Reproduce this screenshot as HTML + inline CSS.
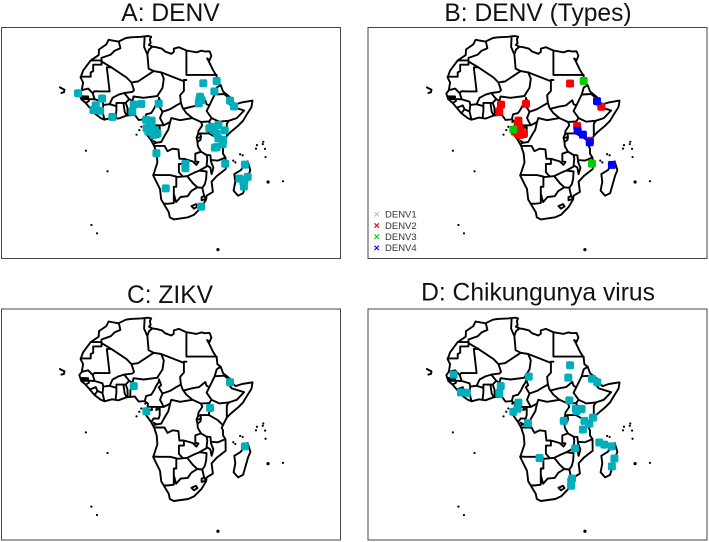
<!DOCTYPE html>
<html>
<head>
<meta charset="utf-8">
<title>Africa arbovirus maps</title>
<style>
html,body{margin:0;padding:0;background:#fff;}
svg{display:block;font-family:"Liberation Sans",sans-serif;filter:blur(0.35px);}
</style>
</head>
<body>
<svg id="chart" width="709" height="542" viewBox="0 0 709 542" xmlns="http://www.w3.org/2000/svg">
<rect width="709" height="542" fill="#fff"/>
<g id="panels"></g>
</svg>
<script>
const panelATitle = "A: DENV";
const panelBTitle = "B: DENV (Types)";
const panelCTitle = "C: ZIKV";
const panelDTitle = "D: Chikungunya virus";
const legendLabels = ["DENV1","DENV2","DENV3","DENV4"];

const denvPoints = [[-18,14.8],[-8.5,12.7],[-11,10],[-11.3,8.5],[-9.3,7.9],[-11.9,8.2],[-4.4,5.5],[4.1,10.3],[7.1,10.6],[3.5,7.5],[14,10.7],[9,4.3],[11.2,4],[9.2,1],[9.9,-0.3],[11.9,-1.6],[13.5,-1],[11.2,1.6],[10.5,3],[12.5,0.3],[13.1,-8.8],[24.6,-13],[24.6,-14.7],[16.8,-22.6],[30.8,-29.8],[31.7,18.7],[37,19.6],[36.1,15.5],[30.4,13.4],[30.1,12.1],[29.9,10.8],[31,12.1],[42.3,11.9],[43.9,9.6],[34.1,1],[35.7,0.3],[37.7,2.3],[40.2,0.2],[37,-1],[37.7,-3],[39.6,-3.6],[39.4,-5.2],[36.3,-6.6],[35,1.5],[37,-6.4],[40.4,-12.9],[48.2,-13.3],[46,-18.8],[49.3,-18.1],[47.6,-20],[47.8,-21.9],[48,-19.5]];
const denv1Points = [];
const denv2Points = [[31.6,18.6],[44,9.5],[4.2,10.3],[3.5,7.4],[14.1,10.6],[11.1,4],[11.3,1.6],[9.7,-0.3],[11.7,-1.6],[13.3,-1],[11,2.8],[12,0],[10.8,-1],[34.4,1.9],[39.5,-3.9]];
const denv3Points = [[37,19.6],[9.1,0.5],[40.3,-12.9]];
const denv4Points = [[42.3,11.7],[34.6,0.1],[36.7,-1.5],[39.4,-4.5],[48.2,-13.4]];
const zikvPoints = [[4.1,10.4],[9.1,0.5],[34.4,1.8],[42.3,11.9],[48.2,-13.3]];
const chikvPoints = [[-14.6,14.9],[-11.7,7.9],[-9.4,7.8],[4.1,10.4],[3.5,7.4],[15.2,14.1],[11.1,3.9],[10.8,1.5],[9.1,0.3],[14.9,-4.2],[31.6,18.6],[30.9,13.7],[40.3,13.3],[42.4,11.9],[31.3,4.8],[33.9,1.5],[34.2,0.6],[36.2,1.4],[29.1,-3.3],[37.3,-3.3],[40.7,-2],[39.2,-4.4],[36.7,-6.7],[43.2,-11.8],[45.2,-12.6],[48.1,-13.3],[49.2,-18.1],[48.2,-21.2],[33.6,-14.1],[19.5,-17.9],[32.4,-26],[32,-28.8]];

const coastline = [[-5.9,35.8],[-2,35.1],[1,36.5],[3,36.8],[7,37],[9.8,37.3],[11,37],[10.5,36],[10.8,34.5],[10.1,33.8],[11.5,33.1],[13,32.9],[15.3,32.3],[16.5,31.2],[19,30.3],[20,31],[20,32.3],[22,32.9],[25,31.6],[29,30.9],[31,31.5],[32.3,31.2],[34.2,31.3],[34.9,29.5],[34.2,27.8],[33.2,28.5],[33.8,27.5],[35.5,24],[37,21.5],[37.3,19],[38.6,18],[39.5,15.5],[43.1,12.6],[43.3,11.5],[44.5,10.4],[47,11.2],[51.2,11.9],[51,10.4],[50.8,9.3],[49,6.5],[47.5,4],[45.5,2],[42.5,-0.5],[41,-2],[40,-4],[39,-6],[39.5,-7],[39.5,-9],[40.5,-10.5],[40.6,-15],[37,-17.8],[35,-20],[35.5,-24],[33,-25.5],[32.8,-27],[31,-30],[28,-33],[25.7,-34],[20,-34.8],[18.4,-34],[18,-32],[15,-27],[14.5,-22.9],[11.8,-17.5],[13.5,-12.5],[13.2,-9],[12.2,-6],[11,-3.8],[9,-1],[9.5,1],[9.7,3.5],[8.5,4.5],[6,4.3],[4.5,6.3],[1.2,6],[-2,4.8],[-4.5,5.2],[-7.5,4.4],[-9,5],[-11.5,6.9],[-13.3,9],[-15,11],[-16.7,12.4],[-17.5,14.7],[-16.5,16],[-16,19],[-17,21],[-16,23.7],[-13,27.7],[-9.8,29.8],[-9.7,32],[-6.8,34],[-5.9,35.8]];
const madagascar = [[49.3,-12],[50.4,-15.5],[49.5,-17.5],[47.5,-24.5],[45.5,-25.5],[43.7,-23.5],[44.4,-20],[44,-17],[46.5,-15.5],[49.3,-12]];
const borders = [
[[-1.8,35],[-1.2,32.5],[-3.5,31.5],[-5,30],[-8.7,28.7],[-8.7,27.3]],
[[-13,27.7],[-8.7,27.7]],
[[-8.7,27.3],[-4.8,25]],
[[-8.7,27.3],[-8.7,26],[-12,26],[-12,23.5],[-13,23],[-13,21.3],[-17,21.3]],
[[-4.8,25],[-6.6,25],[-5.5,15.5],[-9.3,15.5],[-11.5,15.6],[-12.2,14.8]],
[[-16.5,16],[-14,16.6],[-12.2,14.8]],
[[-4.8,25],[1.2,21],[3.2,19],[4.2,19.2],[5.8,19.4],[12,23.5]],
[[12,23.5],[10,24.5],[9.5,30]],
[[8.4,36.9],[8.2,33],[9.5,30]],
[[11.5,33.1],[10.2,32],[9.5,30.2]],
[[12,23.5],[15,23]],
[[15,23],[24,19.5]],
[[24,19.5],[24,20],[25,20]],
[[25,31.6],[25,22]],
[[25,22],[37,22]],
[[24,19.5],[24,15.7],[22.5,14],[22.8,11]],
[[15,23],[16,20.5],[15.5,16.9],[13.6,14]],
[[3.2,19],[4.2,16],[3.5,15.3],[0.3,14.9]],
[[-5.5,10.5],[-5,11.5],[-4.3,13],[-2,14.2],[0.3,14.9]],
[[0.3,14.9],[2.3,12.5]],
[[3.6,11.7],[4,13.5],[8,13],[13.6,13.7]],
[[2.3,12.5],[3.6,11.7]],
[[3.6,11.7],[2.8,9],[2.7,6.4]],
[[1.7,6.2],[1.6,9],[0.9,11]],
[[1.2,6.1],[0.5,7.5],[0,11]],
[[-2.8,11],[0,11],[0.9,11],[2.3,12.5]],
[[-3.1,5.1],[-2.8,8],[-2.8,11]],
[[-2.8,9.7],[-5.5,10.5]],
[[-5.5,10.5],[-8,10.2]],
[[-8,10.2],[-8.3,7.6]],
[[-8.3,7.6],[-7.5,4.4]],
[[-8.3,7.6],[-10.3,8.5],[-11.5,6.9]],
[[-10.3,8.5],[-11,10],[-13,9.2]],
[[-8,10.2],[-8.3,11.5],[-11.4,12.4]],
[[-11.4,12.4],[-13.7,12.5]],
[[-11.4,12.4],[-12.2,14.8]],
[[-16.7,12.4],[-13.7,12.5],[-13.7,11.7],[-15,11]],
[[-16.7,13.6],[-14,13.5],[-14,13.2],[-16.7,13.1],[-16.7,13.6]],
[[8.5,4.5],[9,6.5],[11,7],[12,8.5],[13,10.5],[14,12],[14.1,13]],
[[14.1,13],[15,10.8],[14,9.9],[15.5,7.5]],
[[15.5,7.5],[18.5,8.5],[21,10],[22.8,11]],
[[15.5,7.5],[14.5,5],[16,2.2]],
[[16,2.2],[13.3,2.2],[9.8,2.3]],
[[9.7,1],[11.3,1],[11.3,2.2]],
[[11.3,2.2],[13.3,2.2],[13,1],[14.4,1.5],[14.4,-1],[14,-2.4],[12,-2.3],[11,-3.8]],
[[16,2.2],[18.5,3.5]],
[[18.5,3.5],[19,5],[22.5,4.2],[27.4,5]],
[[27.4,5],[25,7],[23.5,9],[22.8,11]],
[[24,8.7],[27,9.5],[30,10],[32.5,12],[33,10.5],[34.1,10]],
[[34.1,10],[33,7.8],[35,5]],
[[27.4,5],[30.8,3.5]],
[[30.8,3.5],[34,3.7]],
[[34,3.7],[35,5]],
[[34.1,10],[36.2,14.3]],
[[36.2,14.3],[37,17],[38.6,18]],
[[36.5,14.3],[40,14.5],[42.4,12.5]],
[[43.1,12.7],[42,12.5],[41.8,11],[43.3,11.5]],
[[41.8,11],[43,9.5],[47.9,8],[45,5],[41.9,4]],
[[41.9,4],[41,2.8],[41,-1.7]],
[[35,5],[38,3.6],[41.9,4]],
[[34,3.7],[35,1.5],[34,0],[33.9,-1]],
[[33.9,-1],[37.5,-3],[39.2,-4.7]],
[[30.8,3.5],[31.3,2.2],[29.8,0],[29.6,-1.4]],
[[30.5,-1],[33.9,-1]],
[[29.6,-1.4],[30.5,-1],[30.8,-2.3],[29.9,-2.7],[29,-2.7],[29.6,-1.4]],
[[29,-2.7],[29.4,-4.4],[30.6,-3.5],[30.8,-2.3]],
[[29.4,-4.4],[29.5,-6],[30.8,-8.2]],
[[30.8,-8.2],[33,-9.5]],
[[33,-9.5],[34.5,-9.6],[34.7,-11.5]],
[[34.7,-11.5],[37.5,-11.7],[40.4,-10.5]],
[[33,-9.5],[33.3,-11],[33,-13.5],[34.5,-14.5],[35,-17],[35.3,-16],[35.7,-14.5],[34.7,-12]],
[[33,-14],[30.2,-15.6]],
[[30.2,-15.6],[28,-16.5],[25.3,-17.8]],
[[30.2,-15.6],[33,-16],[32.8,-19],[32.3,-21],[31.3,-22.4]],
[[25.3,-17.8],[27.5,-20.5],[29.3,-22.2]],
[[29.3,-22.2],[31.3,-22.4]],
[[31.3,-22.4],[32,-25.5],[32.8,-26.9]],
[[32,-25.7],[31,-26],[31,-27.3],[32,-27]],
[[29.3,-22.2],[26.9,-23.7],[25.5,-25.7],[22.7,-26],[20.9,-28],[20,-24.7]],
[[25.3,-17.8],[23.5,-18],[21,-18.2],[21,-22],[20,-22],[20,-28.3]],
[[20,-28.4],[17.4,-28.7],[16.5,-28.6]],
[[11.8,-17.3],[14,-17.4],[18.5,-17.4],[21,-18]],
[[22,-16.2],[23.4,-17.8]],
[[22,-16.2],[22,-13],[24,-13],[24,-11]],
[[24,-11],[22.2,-11],[21.8,-7.3],[19.5,-7],[17.5,-8],[16.3,-5.9],[12.3,-5.9]],
[[12.2,-5],[13,-4.6],[12,-4]],
[[12.8,-4.7],[15,-4.4],[16.3,-2],[17.8,0.5],[18.5,3.5]],
[[24,-11],[27.5,-12],[29,-13.4],[29.8,-12.2],[28.5,-12],[28.5,-9],[30.8,-8.2]],
[[27,-29.6],[28.8,-28.8],[29.4,-29.7],[28,-30.6],[27,-29.6]],
[[-25.2,17.1],[-24.3,16.6],[-23.4,16.2],[-23.6,15.2],[-24.6,14.9]]
];
const smallIslands = [[-14.9,-7.8],[-6.3,-15.9],[-12.7,-37],[-10.5,-40.3],[63.3,-19.8],[52.6,-7],[53,-5.6],[55.5,-4.3],[55.3,-5.2],[56.2,-7.1],[56.4,-10.3],[46.3,-9.2],[47.3,-9.6],[43.6,-11.7],[44.4,-12.4],[5.2,-1.5],[6.3,0.3],[7.1,1.6],[8.7,3.5]];
const largeIslands = [[37.5,-46.7],[57.4,-20.1]];

const panels = [
 {id:"a",title:panelATitle,ox:0,oy:0,fx:1.5,fy:27.5,tx:170.5,ty:21,series:[{name:"denv",color:"#00AFBB",pts:denvPoints}]},
 {id:"b",title:panelBTitle,ox:367,oy:0,fx:368,fy:27.5,tx:538,ty:21,series:[{name:"denv1",color:"#BEBEBE",pts:denv1Points},{name:"denv2",color:"#FF0000",pts:denv2Points},{name:"denv3",color:"#00CD00",pts:denv3Points},{name:"denv4",color:"#0000FF",pts:denv4Points}]},
 {id:"c",title:panelCTitle,ox:0,oy:281.67,fx:1.5,fy:309,tx:170,ty:303,series:[{name:"zikv",color:"#00AFBB",pts:zikvPoints}]},
 {id:"d",title:panelDTitle,ox:367,oy:281.67,fx:368,fy:309,tx:538,ty:300.5,series:[{name:"chikungunya",color:"#00AFBB",pts:chikvPoints}]}
];
const legendColors = ["#BEBEBE","#FF0000","#00CD00","#0000FF"];

const NS = "http://www.w3.org/2000/svg";
const xScale = (lon, ox) => ox + 79.33 + (lon + 17.5) * 2.52;
const yScale = (lat, oy) => oy + 36 + (37.3 - lat) * 2.543;
function mk(tag, attrs, parent){
  const e = document.createElementNS(NS, tag);
  for (const k in attrs) e.setAttribute(k, attrs[k]);
  parent.appendChild(e);
  return e;
}
function pathOf(line, p){
  return line.map((c,i)=>(i?"L":"M")+xScale(c[0],p.ox).toFixed(1)+" "+yScale(c[1],p.oy).toFixed(1)).join("");
}
const root = document.getElementById("panels");
panels.forEach(p=>{
  const g = mk("g",{},root);
  
  
  const frame = mk("rect",{x:p.fx,y:p.fy,width:339,height:231,fill:"#fff",stroke:"#444","stroke-width":1},g);
  
  
  const title = mk("text",{x:p.tx,y:p.ty,"text-anchor":"middle","font-size":24.6,fill:"#111"},g);
  title.textContent = p.title;
  
  
  const d = pathOf(coastline,p)+pathOf(madagascar,p)+borders.map(b=>pathOf(b,p)).join("");
  const map = mk("path",{d:d,fill:"none",stroke:"#000","stroke-width":1.9,"stroke-linejoin":"round","stroke-linecap":"round"},g);
  
  
  smallIslands.forEach(c=>{
    const dot = mk("circle",{cx:xScale(c[0],p.ox),cy:yScale(c[1],p.oy),r:1.1,fill:"#000"},g);
    
    
  });
  largeIslands.forEach(c=>{
    const dot = mk("circle",{cx:xScale(c[0],p.ox),cy:yScale(c[1],p.oy),r:1.6,fill:"#000"},g);
    
    
  });
  p.series.forEach(s=>{
    s.pts.forEach(c=>{
      const m = mk("rect",{x:xScale(c[0],p.ox)-4,y:yScale(c[1],p.oy)-4,width:8,height:8,rx:1.8,fill:s.color},g);
      
      
    });
  });
});
const legend = mk("g",{},root);


legendLabels.forEach((label,i)=>{
  const y = 214.3 + i * 11.2;
  const x = 376.7, r = 2.2;
  const mark = mk("path",{d:`M${x-r} ${y-r}L${x+r} ${y+r}M${x-r} ${y+r}L${x+r} ${y-r}`,stroke:legendColors[i],"stroke-width":1.1,fill:"none"},legend);
  
  
  const t = mk("text",{x:385,y:y+3.3,"font-size":9.5,fill:"#333"},legend);
  t.textContent = label;
  
  
});
</script>
</body>
</html>
